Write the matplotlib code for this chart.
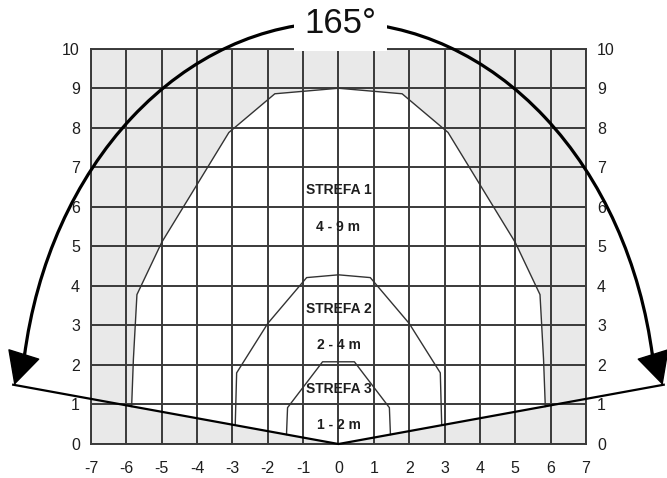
import numpy as np
import matplotlib
matplotlib.use("Agg")
import matplotlib.pyplot as plt
from matplotlib.patches import Arc

plt.rcParams['font.family'] = ['Liberation Sans', 'DejaVu Sans']
plt.rcParams['axes.unicode_minus'] = False

# axis ticks
x_ticks = list(range(-7, 8))
y_ticks = list(range(0, 11))

# detection zones (outline points, metres)
zone1_x = [-5.85, -5.8, -5.7, -5.0, -3.1, -1.8, 0.0, 1.8, 3.1, 5.0, 5.7, 5.8, 5.85]
zone1_y = [0.95, 2.15, 3.78, 5.1, 7.88, 8.86, 9.0, 8.86, 7.88, 5.1, 3.78, 2.15, 0.95]
zone2_x = [-2.92, -2.88, -2.0, -0.9, 0.0, 0.9, 2.0, 2.88, 2.92]
zone2_y = [0.48, 1.8, 3.05, 4.21, 4.28, 4.21, 3.05, 1.8, 0.48]
zone3_x = [-1.47, -1.44, -0.45, 0.45, 1.44, 1.47]
zone3_y = [0.24, 0.92, 2.08, 2.08, 0.92, 0.24]

# bottom boundary of the detection field
v_x = [-9.2, 0.0, 9.2]
v_y = [1.5, 0.0, 1.5]

zone_names = ["STREFA 1", "STREFA 2", "STREFA 3"]
zone_ranges = ["4 - 9 m", "2 - 4 m", "1 - 2 m"]
name_y = [6.42, 3.42, 1.39]
range_y = [5.5, 2.51, 0.48]

angle_label = "165°"

fig = plt.figure(figsize=(6.67, 4.78), dpi=100)
ax = fig.add_axes([0.1364, 0.0711, 0.7421, 0.827])
ax.set_facecolor('#e9e9e9')

# white area inside zone 1
ax.fill(zone1_x + [0.0], zone1_y + [0.0], color='white', zorder=0.5, lw=0)

ax.set_xlim(-7, 7)
ax.set_ylim(0, 10)
ax.set_xticks(x_ticks)
ax.set_yticks(y_ticks)
ax.grid(True, color='#3a3a3a', lw=1.4, zorder=1)
ax.set_axisbelow(False)
for s in ax.spines.values():
    s.set_color('#3a3a3a')
    s.set_linewidth(1.4)
ax.tick_params(length=0, labelsize=11.5, labelcolor='#1e1e1e')
ax.tick_params(axis='x', pad=12)
ax.tick_params(axis='y', left=True, right=True, labelleft=True, labelright=True, pad=8)

# zone outlines
for zx, zy in [(zone1_x, zone1_y), (zone2_x, zone2_y), (zone3_x, zone3_y)]:
    ax.plot(zx, zy, color='#333333', lw=1.0, zorder=3)

ax.plot(v_x, v_y, color='black', lw=1.6, zorder=4, clip_on=False)

for name, rng, ny, ry in zip(zone_names, zone_ranges, name_y, range_y):
    ax.text(0, ny, name, ha='center', va='center', fontsize=10, fontweight='bold',
            color='#1e1e1e', zorder=5)
    ax.text(0, ry, rng, ha='center', va='center', fontsize=10, fontweight='bold',
            color='#1e1e1e', zorder=5)

# 165 degree arc with arrows
cx, cy, ra, rb = 0.0, 0.6, 9.0, 10.07
end_ang = 10.2
arc = Arc((cx, cy), 2 * ra, 2 * rb, theta1=end_ang, theta2=180 - end_ang,
          color='black', lw=2.3, zorder=6, clip_on=False)
ax.add_patch(arc)

t = np.deg2rad(end_ang)
px = ra * np.cos(t)
py = cy + rb * np.sin(t)
for sgn in (-1, 1):
    ax.annotate('', xy=(sgn * 9.17, 1.49), xytext=(sgn * px, py),
                arrowprops=dict(arrowstyle='-|>,head_length=0.55,head_width=0.28',
                                mutation_scale=40, color='black', lw=1,
                                shrinkA=0, shrinkB=0),
                annotation_clip=False, zorder=7)

ax.text(0.05, 10.63, angle_label, ha='center', va='center', fontsize=25, color='#111111',
        zorder=8, clip_on=False,
        bbox=dict(boxstyle='square,pad=0.3', fc='white', ec='none'))

fig.savefig('out.png', dpi=100)
